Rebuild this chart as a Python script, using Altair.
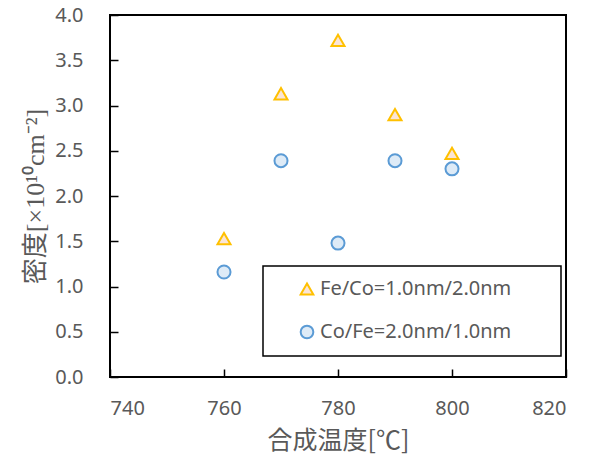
import altair as alt
import pandas as pd

temps = [760, 770, 780, 790, 800]
fe_co = [1.53, 3.13, 3.72, 2.90, 2.47]
co_fe = [1.16, 2.39, 1.48, 2.39, 2.30]
series_names = ["Fe/Co=1.0nm/2.0nm", "Co/Fe=2.0nm/1.0nm"]

rows = []
for t, v in zip(temps, fe_co):
    rows.append({"temp": t, "density": v, "series": series_names[0]})
for t, v in zip(temps, co_fe):
    rows.append({"temp": t, "density": v, "series": series_names[1]})
df = pd.DataFrame(rows)

font_sans = "Noto Sans"
title_y = "密度[×10¹⁰cm⁻²]"
title_x = "合成温度[℃]"
# invisible trailing room so the legend frame is as wide as in the original
legend_pad = "\u00a0" * 7 + "\u200b"

legend_common = dict(title=None, orient="none", legendX=153, legendY=251)

chart = alt.Chart(df).mark_point(filled=True, strokeWidth=2, opacity=1).encode(
    x=alt.X("temp:Q", title=title_x,
            scale=alt.Scale(domain=[740, 820], nice=False, zero=False),
            axis=alt.Axis(values=[740, 760, 780, 800, 820], format="d",
                          grid=False, domain=False, ticks=True, tickSize=8,
                          offset=-8, tickColor="black", tickWidth=1.5,
                          labelPadding=21, labelFontSize=20, labelFont=font_sans,
                          labelColor="#595959", titleFontSize=25,
                          titleFont="Noto Sans CJK JP", titleColor="#595959",
                          titleFontWeight="normal", titlePadding=10)),
    y=alt.Y("density:Q", title=title_y,
            scale=alt.Scale(domain=[0, 4], nice=False),
            axis=alt.Axis(values=[0, 0.5, 1, 1.5, 2, 2.5, 3, 3.5, 4], format=".1f",
                          grid=False, domain=False, ticks=True, tickSize=8,
                          offset=-8, tickColor="black", tickWidth=1.5,
                          labelPadding=27, labelFontSize=20, labelFont=font_sans,
                          labelColor="#595959", titleFontSize=26,
                          titleFont="'Liberation Serif', 'Noto Sans CJK JP'",
                          titleColor="#595959", titleFontWeight="normal",
                          titlePadding=6)),
    shape=alt.Shape("series:N", scale=alt.Scale(domain=series_names,
                                                range=["triangle-up", "circle"]),
                    legend=alt.Legend(**legend_common, padding=13, rowPadding=22,
                                      symbolOffset=21, labelOffset=3,
                                      labelFontSize=20, labelFont=font_sans,
                                      labelColor="#595959", labelLimit=400,
                                      labelExpr="datum.label + '" + legend_pad + "'",
                                      strokeColor="black",
                                      fillColor="white", symbolStrokeWidth=2,
                                      symbolSize=160)),
    fill=alt.Fill("series:N", scale=alt.Scale(domain=series_names,
                                              range=["#FBE5D6", "#DEEBF7"]),
                  legend=alt.Legend(**legend_common)),
    stroke=alt.Stroke("series:N", scale=alt.Scale(domain=series_names,
                                                  range=["#FFC000", "#5B9BD5"]),
                      legend=alt.Legend(**legend_common)),
    size=alt.value(170),
).properties(
    width=456, height=362,
    autosize=alt.AutoSizeParams(type="none"),
    padding={"left": 102, "top": 7, "right": 21, "bottom": 78},
).configure_view(
    stroke="black", strokeWidth=2
).configure_legend(
    strokeWidth=1.5
)

chart.save("out.html", embed_options={"renderer": "svg", "actions": False})
